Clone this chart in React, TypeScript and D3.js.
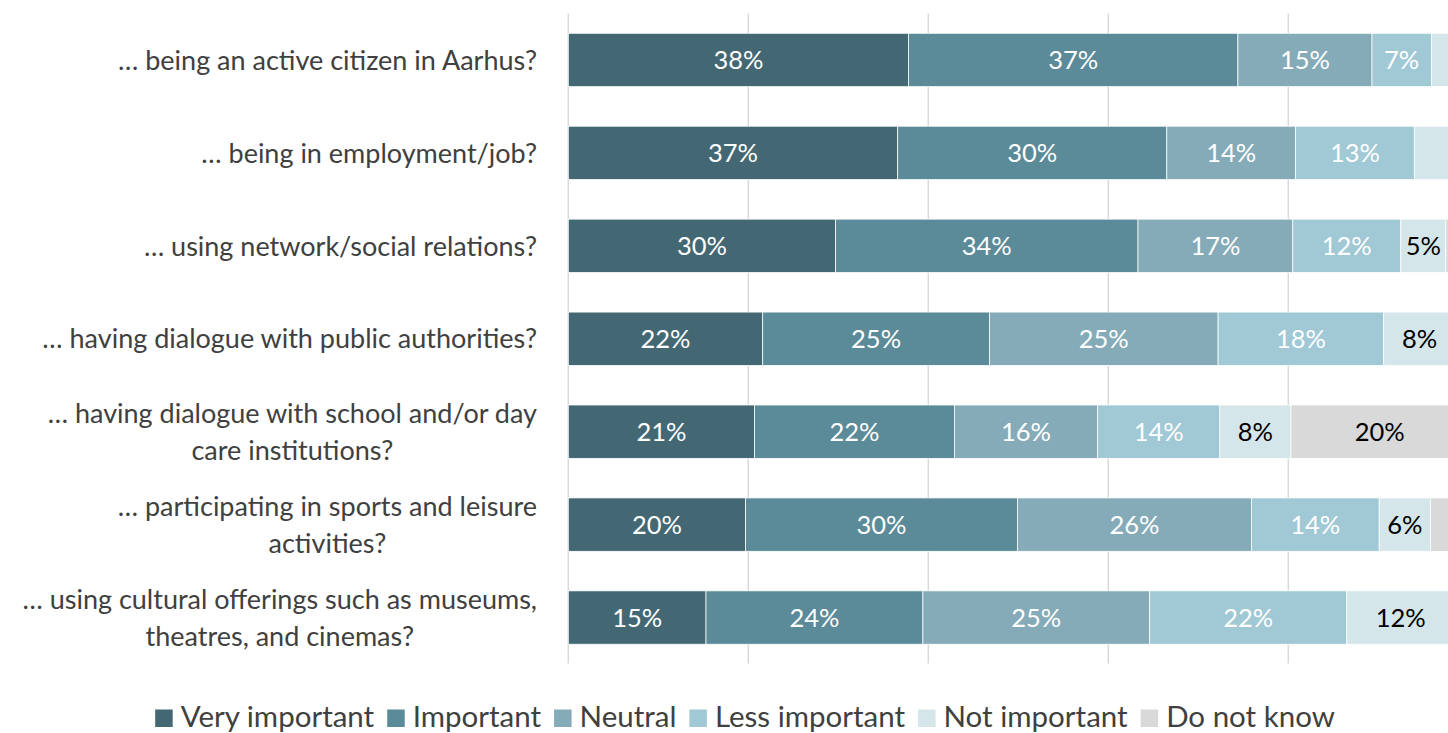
import React, { useEffect, useRef } from "react";
import * as d3 from "d3";

const categories = [
  "… being an active citizen in Aarhus?",
  "… being in employment/job?",
  "… using network/social relations?",
  "… having dialogue with public authorities?",
  "… having dialogue with school and/or day\ncare institutions?",
  "… participating in sports and leisure\nactivities?",
  "… using cultural offerings such as museums,\ntheatres, and cinemas?",
];

const seriesNames = ["Very important", "Important", "Neutral", "Less important", "Not important", "Do not know"];

const veryImportant = [37.8, 36.6, 29.7, 21.6, 20.7, 19.7, 15.3];
const important = [36.6, 29.9, 33.6, 25.2, 22.2, 30.2, 24.1];
const neutral = [14.9, 14.3, 17.2, 25.4, 15.9, 26.0, 25.2];
const lessImportant = [6.6, 13.2, 12.0, 18.4, 13.6, 14.2, 21.9];
const notImportant = [3.6, 4.0, 5.0, 8.0, 7.9, 5.7, 12.0];
const doNotKnow = [0.5, 2.0, 2.5, 1.4, 19.7, 4.2, 1.5];

const gridTicks = [0, 20, 40, 60, 80, 100];

const colors = ["#436873", "#5B8A98", "#85ABB8", "#A0C8D5", "#D5E6EB", "#D9D9D9"];
const labelColors = ["#ffffff", "#ffffff", "#ffffff", "#ffffff", "#000000", "#000000"];

const W = 1448;
const H = 733;
const FONT = "Lato, 'Open Sans', sans-serif";

export default function App() {
  const ref = useRef<SVGSVGElement>(null);

  useEffect(() => {
    const svg = d3.select(ref.current);
    svg.selectAll("*").remove();

    const seriesValues = [veryImportant, important, neutral, lessImportant, notImportant, doNotKnow];
    const rows = categories.map((c, i) => {
      const r: any = { cat: c };
      seriesNames.forEach((s, k) => (r[s] = seriesValues[k][i]));
      return r;
    });
    const stack = d3.stack<any>().keys(seriesNames)(rows);

    const x = d3.scaleLinear().domain([0, 100]).range([568.3, 1468.3]);
    const y = d3
      .scaleBand<string>()
      .domain(categories)
      .range([13.5, 664])
      .paddingInner(0.426)
      .paddingOuter(0.213);

    // gridlines
    svg
      .append("g")
      .selectAll("line")
      .data(gridTicks)
      .join("line")
      .attr("x1", (d) => x(d))
      .attr("x2", (d) => x(d))
      .attr("y1", 13.5)
      .attr("y2", 663.5)
      .attr("stroke", "#d9d9d9")
      .attr("stroke-width", 1.5);

    // bars
    const g = svg.append("g");
    stack.forEach((layer, k) => {
      g.append("g")
        .selectAll("rect")
        .data(layer)
        .join("rect")
        .attr("x", (d) => x(d[0]))
        .attr("width", (d) => x(d[1]) - x(d[0]))
        .attr("y", (d) => y(d.data.cat)!)
        .attr("height", y.bandwidth())
        .attr("fill", colors[k])
        .attr("stroke", "#ffffff")
        .attr("stroke-width", 0.75);
    });

    // value labels
    stack.forEach((layer, k) => {
      g.append("g")
        .selectAll("text")
        .data(layer.filter((d) => Math.round(d[1] - d[0]) >= 5))
        .join("text")
        .attr("x", (d) => (x(d[0]) + x(d[1])) / 2)
        .attr("y", (d) => y(d.data.cat)! + y.bandwidth() / 2)
        .attr("dy", "0.36em")
        .attr("text-anchor", "middle")
        .attr("font-family", FONT)
        .attr("font-size", 25.5)
        .attr("fill", labelColors[k])
        .text((d) => `${Math.round(d[1] - d[0])}%`);
    });

    // category labels
    const lineH = 36.5;
    const rightEdge = 537;
    categories.forEach((c) => {
      const lines = c.split("\n");
      const t = svg
        .append("text")
        .attr("font-family", FONT)
        .attr("font-size", 27)
        .attr("fill", "#404040")
        .attr("text-anchor", "middle");
      const cy = y(c)! + y.bandwidth() / 2;
      const spans = lines.map((ln, i) =>
        t
          .append("tspan")
          .attr("y", cy + (i - (lines.length - 1) / 2) * lineH)
          .attr("dy", "0.36em")
          .text(ln)
      );
      const maxW = d3.max(spans, (s) => (s.node() as SVGTextContentElement).getComputedTextLength()) || 0;
      spans.forEach((s) => s.attr("x", rightEdge - maxW / 2));
    });

    // legend
    const sq = 17.5;
    const gapText = 8;
    const gapItem = 13;
    const legendY = 727;
    const lg = svg.append("g");
    let cx = 0;
    seriesNames.forEach((s, k) => {
      lg.append("rect")
        .attr("x", cx)
        .attr("y", legendY - sq)
        .attr("width", sq)
        .attr("height", sq)
        .attr("fill", colors[k]);
      const t = lg
        .append("text")
        .attr("x", cx + sq + gapText)
        .attr("y", legendY)
        .attr("font-family", FONT)
        .attr("font-size", 29.5)
        .attr("fill", "#404040")
        .text(s);
      cx += sq + gapText + (t.node() as SVGTextContentElement).getComputedTextLength() + gapItem;
    });
    const total = cx - gapItem;
    lg.attr("transform", `translate(${745 - total / 2},0)`);
  }, []);

  return (
    <svg
      ref={ref}
      width={W}
      height={H}
      style={{ position: "absolute", left: 0, top: 0, background: "#fff" }}
    />
  );
}
